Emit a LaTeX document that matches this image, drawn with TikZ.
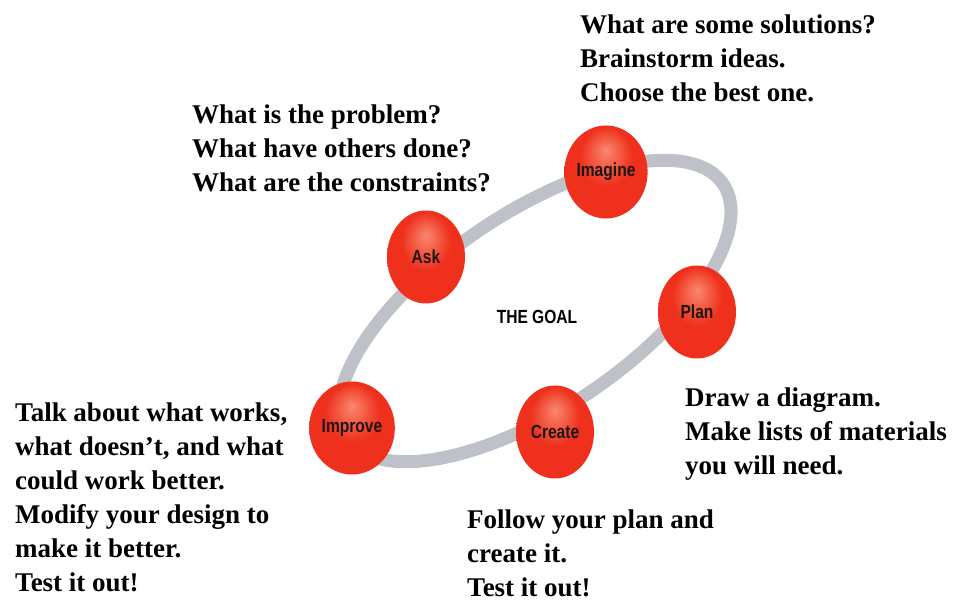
\documentclass[tikz,border=0pt]{standalone}
\usepackage{fontspec}
\setmainfont{Liberation Serif}
\newfontfamily\ballfont{Liberation Sans}[FakeStretch=0.82]
\usetikzlibrary{shapes.geometric}

\definecolor{ringgray}{RGB}{190,193,199}
\definecolor{ballhi}{RGB}{250,135,110}
\definecolor{ballred}{RGB}{238,48,28}
\definecolor{ballrim}{RGB}{205,28,14}
\definecolor{balltext}{RGB}{30,22,20}
\pgfdeclareradialshading{redball}{\pgfpoint{0bp}{12bp}}{color(0bp)=(ballhi); color(16bp)=(ballred); color(36bp)=(ballred); color(50bp)=(ballrim)}

\begin{document}
\begin{tikzpicture}
[x=1pt,y=-1pt,%
  every node/.style={inner sep=0pt},%
  ring/.style={draw=ringgray,line width=13pt},%
  ball/.style={shape=ellipse,minimum width=78pt,minimum height=93pt,shading=redball,%
    text=balltext,font=\ballfont\bfseries\fontsize{19}{19}\selectfont},%
  note/.style={anchor=north west,align=left,font=\bfseries\fontsize{27}{34}\selectfont}]
\useasboundingbox (0,0) rectangle (954,601);
\draw[ring,rotate around={34:(535,311)}] (535,311) ellipse [x radius=227pt,y radius=98pt];

\node[ball] (imagine) at (606,172) {Imagine};
\node[ball] (ask) at (426,257) {Ask};
\node[ball] (plan) at (697,312) {Plan};
\node[ball] (create) at (555,432) {Create};
\node[ball] (improve) at (352,428) {Improve};
\node[font=\ballfont\bfseries\fontsize{19}{19}\selectfont] (goal) at (537,317) {THE GOAL};

\node[note] (imaginetxt) at (580,15) {What are some solutions?\\Brainstorm ideas.\\Choose the best one.};
\node[note] (asktxt) at (192,105) {What is the problem?\\What have others done?\\What are the constraints?};
\node[note] (plantxt) at (685,388) {Draw a diagram.\\Make lists of materials\\you will need.};
\node[note] (createtxt) at (467,510) {Follow your plan and\\create it.\\Test it out!};
\node[note] (improvetxt) at (15,403) {Talk about what works,\\what doesn’t, and what\\could work better.\\Modify your design to\\make it better.\\Test it out!};
\end{tikzpicture}
\end{document}
